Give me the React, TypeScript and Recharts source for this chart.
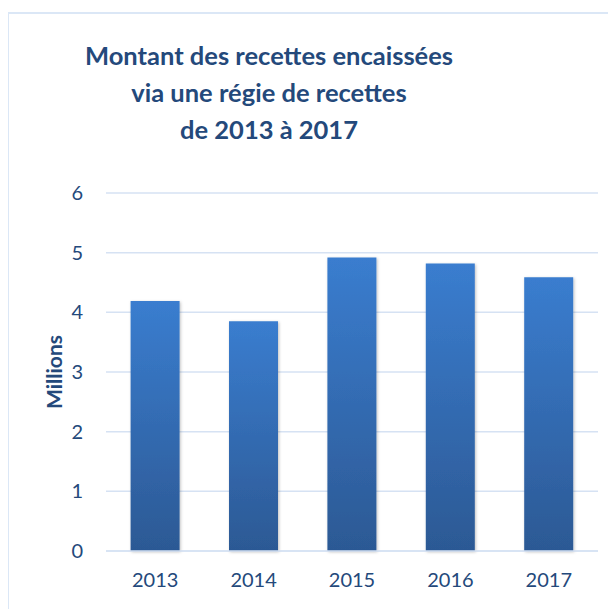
import { Bar, BarChart, CartesianGrid, XAxis, YAxis } from "recharts";

const years = ["2013", "2014", "2015", "2016", "2017"];
const amounts = [4.19, 3.85, 4.92, 4.82, 4.59];
const yTicks = [0, 1, 2, 3, 4, 5, 6];
const titleLines = ["Montant des recettes encaissées", "via une régie de recettes", "de 2013 à 2017"];

const data = years.map((year, i) => ({ year, amount: amounts[i] }));

const textColor = "#24497b";
const font = "Lato, 'Open Sans', sans-serif";

export default function App() {
  return (
    <div style={{ position: "relative", width: 616, height: 609, margin: "-8px 0 0 -8px", overflow: "hidden", fontFamily: font }}>
      <div
        style={{
          position: "absolute",
          left: 7,
          top: 12,
          width: 609,
          height: 597,
          borderLeft: "2px solid #dbe7f6",
          borderTop: "2px solid #dbe7f6",
          boxSizing: "border-box"
        }}
      />
      <div
        style={{
          position: "absolute",
          left: 0,
          top: 37,
          width: 538,
          textAlign: "center",
          color: textColor,
          fontWeight: 700,
          fontSize: 25.5,
          lineHeight: "37px"
        }}
      >
        {titleLines.map((line) => (
          <div key={line}>{line}</div>
        ))}
      </div>
      <BarChart
        width={616}
        height={609}
        data={data}
        margin={{ top: 193, right: 18, bottom: 28, left: 46 }}
        barCategoryGap="25%"
        style={{ position: "absolute", left: 0, top: 0 }}
      >
        <defs>
          <linearGradient id="barFill" x1="0" y1="0" x2="0" y2="1">
            <stop offset="0%" stopColor="#3a7dcf" />
            <stop offset="100%" stopColor="#2c5994" />
          </linearGradient>
          <filter id="barShadow" x="-20%" y="-5%" width="140%" height="110%">
            <feDropShadow dx="1" dy="1" stdDeviation="1.5" floodColor="#000" floodOpacity="0.25" />
          </filter>
        </defs>
        <CartesianGrid vertical={false} stroke="#d6e2f3" strokeWidth={1.5} />
        <XAxis
          dataKey="year"
          axisLine={{ stroke: "#d6e2f3", strokeWidth: 1.5 }}
          tickLine={false}
          tickMargin={16}
          height={30}
          tick={{ fill: textColor, fontSize: 20, fontFamily: font }}
        />
        <YAxis
          domain={[0, 6]}
          ticks={yTicks}
          axisLine={false}
          tickLine={false}
          tickSize={0}
          tickMargin={23}
          width={60}
          tick={{ fill: textColor, fontSize: 20, fontFamily: font }}
          label={{
            value: "Millions",
            angle: -90,
            position: "insideLeft",
            offset: 0,
            dx: 9,
            style: { fill: textColor, fontSize: 21, fontWeight: 700, fontFamily: font, textAnchor: "middle" }
          }}
        />
        <Bar dataKey="amount" fill="url(#barFill)" filter="url(#barShadow)" isAnimationActive={false} />
      </BarChart>
    </div>
  );
}
